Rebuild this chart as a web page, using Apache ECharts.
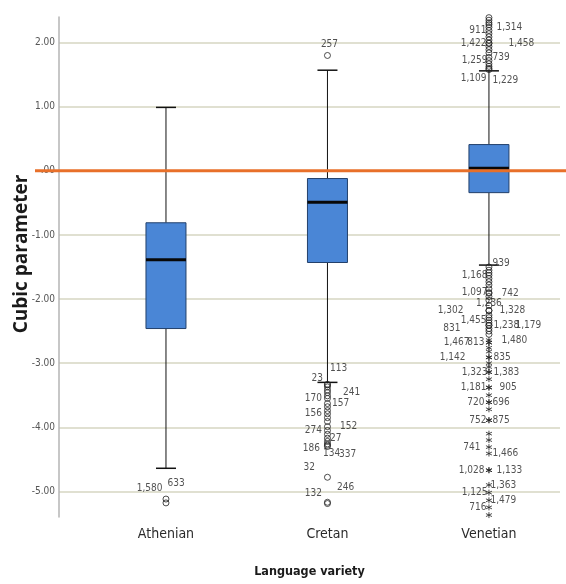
<!DOCTYPE html>
<html><head><meta charset="utf-8">
<script src="https://cdn.jsdelivr.net/npm/echarts@6/dist/echarts.min.js"></script>
<style>html,body{margin:0;padding:0;background:#fff}#c{width:566px;height:584px}</style>
</head><body><div id="c"></div>
<script>
// ---------- data ----------
const categories = ['Athenian', 'Cretan', 'Venetian'];
const lowerWhisker = [-4.64, -3.30, -1.47];
const q1 = [-2.46, -1.43, -0.34];
const median = [-1.385, -0.49, 0.04];
const q3 = [-0.81, -0.12, 0.41];
const upperWhisker = [0.99, 1.57, 1.56];
const yTicks = [-5, -4, -3, -2, -1, 0, 1, 2];

const athenianOutlierValues = [-5.12, -5.18];
const athenianOutlierIds = ['1,580', '633'];

const cretanOutlierValues = [1.80, -3.33, -3.34, -3.37, -3.42, -3.46, -3.51, -3.55, -3.63, -3.68, -3.74, -3.79, -3.85, -3.91, -3.99, -4.05, -4.11, -4.17, -4.22, -4.26, -4.28, -4.30, -4.78, -5.17, -5.19];
const cretanOutlierIds = ['257', '', '113', '23', '', '241', '', '170', '157', '', '', '156', '', '', '152', '274', '', '27', '', '134', '186', '337', '32', '132', '246'];

const venetianOutlierValues = [2.43, 2.39, 2.35, 2.31, 2.28, 2.24, 2.19, 2.14, 2.09, 2.04, 1.99, 1.99, 1.94, 1.89, 1.84, 1.77, 1.72, 1.67, 1.63, 1.60, 1.58,
  -1.50, -1.55, -1.59, -1.63, -1.68, -1.73, -1.78, -1.84, -1.90, -1.91, -1.96, -2.02, -2.10, -2.18, -2.18, -2.25, -2.29, -2.33, -2.37, -2.41, -2.41, -2.46, -2.50, -2.55,
  -2.64, -2.68, -2.68, -2.76, -2.82, -2.91, -2.91, -3.00, -3.06, -3.14, -3.14, -3.25, -3.38, -3.38, -3.50, -3.61, -3.61, -3.72, -3.89, -3.89, -4.10, -4.20, -4.31, -4.41, -4.67, -4.67, -4.90, -5.02, -5.14, -5.25, -5.37];
const venetianOutlierIds = ['', '', '', '', '', '1,314', '911', '', '', '', '1,422', '1,458', '', '', '', '739', '1,259', '', '', '1,229', '1,109',
  '939', '', '', '1,168', '', '', '', '', '1,097', '742', '', '', '1,236', '1,302', '1,328', '', '', '1,455', '', '1,238', '1,179', '831', '', '',
  '1,480', '1,467', '813', '', '', '1,142', '835', '', '', '1,323', '1,383', '', '1,181', '905', '', '720', '696', '', '752', '875', '', '', '741', '1,466', '1,028', '1,133', '1,363', '1,125', '1,479', '716', ''];

// ---------- label layout (annotation placement only) ----------
const labelLayout = {
  'Athenian|1,580': ['left', 1, -11], 'Athenian|633': ['right', -3, -19],
  'Cretan|257': ['top', 2, -2], 'Cretan|113': ['right', -2, -17], 'Cretan|23': ['left', 0, -8],
  'Cretan|241': ['right', 11, 0], 'Cretan|170': ['left', -1, 0], 'Cretan|157': ['right', 0, 0],
  'Cretan|156': ['left', -1, 0], 'Cretan|152': ['right', 8, 0], 'Cretan|274': ['left', -1, 0],
  'Cretan|27': ['right', -2, 0], 'Cretan|134': ['right', -9, 9], 'Cretan|186': ['left', -3, 3],
  'Cretan|337': ['right', 7, 8], 'Cretan|32': ['left', -8, -10], 'Cretan|132': ['left', -1, -9],
  'Cretan|246': ['right', 5, -16],
  'Venetian|1,314': ['right', 3, 0], 'Venetian|911': ['left', 2, 0], 'Venetian|1,422': ['left', 2, 0],
  'Venetian|1,458': ['right', 15, 0], 'Venetian|739': ['right', -1, 0], 'Venetian|1,259': ['left', 3, 0],
  'Venetian|1,229': ['right', -1, 12], 'Venetian|1,109': ['left', 2, 9], 'Venetian|939': ['right', -1, -4],
  'Venetian|1,168': ['left', 3, 0], 'Venetian|1,097': ['left', 3, 0], 'Venetian|742': ['right', 8, 0],
  'Venetian|1,236': ['inside', 0, -2], 'Venetian|1,302': ['left', -21, 0], 'Venetian|1,328': ['right', 6, 0],
  'Venetian|1,455': ['left', 2, 0], 'Venetian|1,238': ['right', 0, 0], 'Venetian|1,179': ['right', 22, 0],
  'Venetian|831': ['left', -24, 0], 'Venetian|1,480': ['right', 8, 0], 'Venetian|1,467': ['left', -15, 0],
  'Venetian|813': ['left', 0, 0], 'Venetian|1,142': ['left', -19, 0], 'Venetian|835': ['right', 0, 0],
  'Venetian|1,323': ['left', 3, 0], 'Venetian|1,383': ['right', 0, 0], 'Venetian|1,181': ['left', 2, 0],
  'Venetian|905': ['right', 6, 0], 'Venetian|720': ['left', 0, 0], 'Venetian|696': ['right', -1, 0],
  'Venetian|752': ['left', 2, 0], 'Venetian|875': ['right', -1, 0], 'Venetian|741': ['left', -4, 0],
  'Venetian|1,466': ['right', -1, 0], 'Venetian|1,028': ['left', 0, 0], 'Venetian|1,133': ['right', 3, 0],
  'Venetian|1,363': ['right', -3, 0], 'Venetian|1,125': ['left', 3, 0], 'Venetian|1,479': ['right', -3, 0],
  'Venetian|716': ['left', 2, 0]
};

// ---------- build ----------
const NARROW = "'DejaVu Sans Condensed', 'Liberation Sans Narrow', sans-serif";
const boxData = categories.map((c, i) => [i + 1, lowerWhisker[i], q1[i], median[i], q3[i], upperWhisker[i]]);

const outlierSets = [
  [athenianOutlierValues, athenianOutlierIds],
  [cretanOutlierValues, cretanOutlierIds],
  [venetianOutlierValues, venetianOutlierIds]
];
const circleData = [], starData = [];
outlierSets.forEach(([vals, ids], i) => {
  const iqr = q3[i] - q1[i];
  vals.forEach((v, k) => {
    const id = ids[k];
    const item = { value: [i + 1, v], name: id };
    const lay = labelLayout[categories[i] + '|' + id];
    if (id && lay) {
      item.label = { show: true, position: lay[0], offset: [lay[1], lay[2]] };
    } else {
      item.label = { show: false };
    }
    const extreme = v < q1[i] - 3 * iqr || v > q3[i] + 3 * iqr;
    (extreme ? starData : circleData).push(item);
  });
});

function renderBox(params, api) {
  const x = api.value(0);
  const lw = api.coord([x, api.value(1)]);
  const pq1 = api.coord([x, api.value(2)]);
  const pm = api.coord([x, api.value(3)]);
  const pq3 = api.coord([x, api.value(4)]);
  const uw = api.coord([x, api.value(5)]);
  const cx = pq1[0];
  const hw = 20, cap = 10;
  const ws = { stroke: '#111', lineWidth: 1 };
  return { type: 'group', children: [
    { type: 'line', shape: { x1: cx, y1: uw[1], x2: cx, y2: pq3[1] }, style: ws },
    { type: 'line', shape: { x1: cx, y1: pq1[1], x2: cx, y2: lw[1] }, style: ws },
    { type: 'line', shape: { x1: cx - cap, y1: uw[1], x2: cx + cap, y2: uw[1] }, style: { stroke: '#111', lineWidth: 1.5 } },
    { type: 'line', shape: { x1: cx - cap, y1: lw[1], x2: cx + cap, y2: lw[1] }, style: { stroke: '#111', lineWidth: 1.5 } },
    { type: 'rect', shape: { x: cx - hw, y: pq3[1], width: 2 * hw, height: pq1[1] - pq3[1] }, style: { fill: '#4a86d6', stroke: '#23406b', lineWidth: 1 } },
    { type: 'line', shape: { x1: cx - hw, y1: pm[1], x2: cx + hw, y2: pm[1] }, style: { stroke: '#080808', lineWidth: 3 } }
  ]};
}

const labelStyle = { formatter: '{b}', fontFamily: NARROW, fontSize: 10, color: '#262626', distance: 1 };

const chart = echarts.init(document.getElementById('c'), null, { renderer: 'canvas' });
chart.setOption({
  backgroundColor: '#ffffff',
  animation: false,
  grid: { left: 59, right: 6, top: 17, bottom: 67, containLabel: false, outerBoundsMode: 'none' },
  xAxis: {
    type: 'value', min: 0.3375, max: 3.44,
    axisLine: { show: true, lineStyle: { color: '#8c8c8c', width: 2 } },
    axisTick: { show: false },
    splitLine: { show: false },
    axisLabel: {
      customValues: [1, 2, 3],
      formatter: v => categories[Math.round(v) - 1] || '',
      fontFamily: NARROW, fontSize: 14, color: '#2a2a2a', margin: 10
    },
    name: 'Language variety', nameLocation: 'middle', nameGap: 48, nameMoveOverlap: false,
    nameTextStyle: { fontFamily: NARROW, fontSize: 12.5, fontWeight: 'bold', color: '#1a1a1a' }
  },
  yAxis: {
    type: 'value', min: -5.4, max: 2.4,
    axisLine: { show: true, lineStyle: { color: '#b4b4b4', width: 1.5 } },
    axisTick: { show: false, customValues: yTicks },
    splitLine: { show: true, lineStyle: { color: '#d6d6c2', width: 1.5 } },
    axisLabel: {
      customValues: yTicks,
      formatter: v => (Math.abs(v) < 1e-9 ? '.00' : v.toFixed(2)),
      fontFamily: NARROW, fontSize: 10, color: '#555', margin: 4
    },
    name: 'Cubic parameter', nameLocation: 'middle', nameRotate: 90, nameGap: 28, nameMoveOverlap: false,
    nameTextStyle: { fontFamily: "'Open Sans', sans-serif", fontSize: 19, fontWeight: 'bold', color: '#1a1a1a', padding: [0, 0, 0, 26] }
  },
  series: [
    { type: 'custom', renderItem: renderBox, data: boxData, encode: { x: 0, y: [1, 2, 3, 4, 5] }, z: 2 },
    { type: 'scatter', data: circleData, symbol: 'circle', symbolSize: 6, z: 3,
      itemStyle: { color: 'rgba(0,0,0,0)', borderColor: '#222', borderWidth: 1 },
      label: labelStyle },
    { type: 'scatter', data: starData, symbol: 'path://M5,0L5,10M0.7,2.5L9.3,7.5M0.7,7.5L9.3,2.5', symbolSize: 6, z: 3,
      itemStyle: { color: 'rgba(0,0,0,0)', borderColor: '#222', borderWidth: 1 },
      label: labelStyle }
  ]
});

const zeroY = chart.convertToPixel({ yAxisIndex: 0 }, 0);
chart.setOption({
  graphic: [{ type: 'line', z: 100, shape: { x1: 35, y1: zeroY, x2: 566, y2: zeroY }, style: { stroke: '#e8702a', lineWidth: 3 } }]
});
</script></body></html>
